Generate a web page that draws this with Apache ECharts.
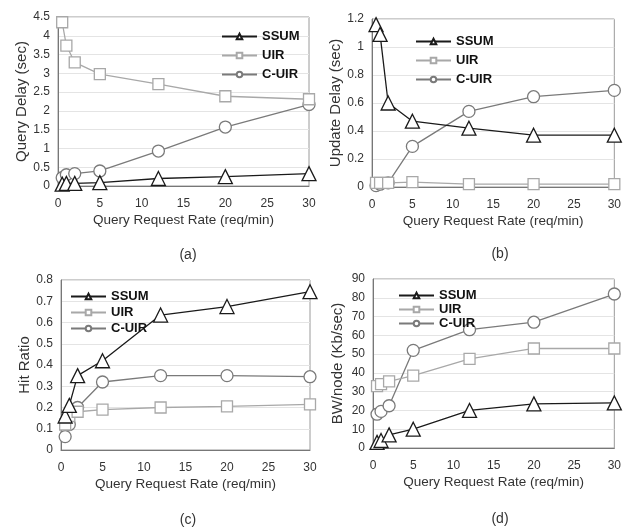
<!DOCTYPE html>
<html>
<head>
<meta charset="utf-8">
<script src="https://cdn.jsdelivr.net/npm/echarts@6/dist/echarts.min.js"></script>
<style>
  html, body { margin: 0; padding: 0; background: #fff; }
  #main { width: 624px; height: 527px; }
</style>
</head>
<body>
<div id="main"></div>
<script>
// query request rate (req/min)
var rates = [0.5, 1, 2, 5, 12, 20, 30];

// (a) query delay (sec)
var delaySSUM = [0.05, 0.07, 0.07, 0.09, 0.2, 0.25, 0.33];
var delayUIR  = [4.36, 3.74, 3.29, 2.98, 2.71, 2.39, 2.31];
var delayCUIR = [0.22, 0.3, 0.33, 0.4, 0.93, 1.57, 2.17];

// (b) update delay (sec)
var updSSUM = [1.16, 1.09, 0.6, 0.47, 0.42, 0.37, 0.37];
var updUIR  = [0.03, 0.03, 0.03, 0.035, 0.02, 0.02, 0.02];
var updCUIR = [0.01, 0.02, 0.03, 0.29, 0.54, 0.645, 0.69];

// (c) hit ratio
var hitSSUM = [0.16, 0.21, 0.35, 0.42, 0.635, 0.675, 0.745];
var hitUIR  = [0.12, 0.16, 0.18, 0.19, 0.2, 0.205, 0.215];
var hitCUIR = [0.063, 0.12, 0.2, 0.32, 0.35, 0.35, 0.345];

// (d) BW/node (Kb/sec)
var bwSSUM = [3, 4, 7, 10, 20, 23.5, 24];
var bwUIR  = [33, 34, 35.5, 38.5, 47.5, 53, 53];
var bwCUIR = [18, 19.5, 22.5, 52, 63, 67, 82];

var panelLabels = ['(a)', '(b)', '(c)', '(d)'];
var yTitles = ['Query Delay (sec)', 'Update Delay (sec)', 'Hit Ratio', 'BW/node (Kb/sec)'];
var xTitle = 'Query Request Rate (req/min)';

var FONT = 'Liberation Sans';
var seriesStyle = {
    SSUM:   { color: '#1a1a1a', symbol: 'triangle', size: 14 },
    UIR:    { color: '#a8a8a8', symbol: 'rect', size: 11 },
    'C-UIR':{ color: '#7a7a7a', symbol: 'circle', size: 12 }
};

function pairs(ys) {
    return rates.map(function (x, i) { return [x, ys[i]]; });
}

var grids = [
    { left: 58, top: 17, width: 251, height: 169 },
    { left: 372, top: 19, width: 250, height: 168 },
    { left: 61, top: 280, width: 249, height: 170 },
    { left: 373, top: 279, width: 249, height: 169 }
];
var yRanges = [
    { max: 4.5, interval: 0.5 },
    { max: 1.2, interval: 0.2 },
    { max: 0.8, interval: 0.1 },
    { max: 90, interval: 10 }
];
var yGaps = [29, 27, 29, 28];
var panelData = [
    [delaySSUM, delayUIR, delayCUIR],
    [updSSUM, updUIR, updCUIR],
    [hitSSUM, hitUIR, hitCUIR],
    [bwSSUM, bwUIR, bwCUIR]
];
var legendPos = [
    { left: 216, top: 25, gap: 6 },
    { left: 410, top: 30, gap: 6 },
    { left: 65, top: 285, gap: 3 },
    { left: 393, top: 284, gap: 1 }
];
var labelPos = [
    { left: 183, top: 243 },
    { left: 495, top: 242 },
    { left: 183, top: 508 },
    { left: 495, top: 507 }
];

var names = ['SSUM', 'UIR', 'C-UIR'];
var series = [];
panelData.forEach(function (set, g) {
    set.forEach(function (ys, k) {
        var st = seriesStyle[names[k]];
        series.push({
            name: names[k],
            type: 'line',
            xAxisIndex: g,
            yAxisIndex: g,
            data: pairs(ys),
            symbol: st.symbol,
            symbolSize: st.size,
            showAllSymbol: true,
            lineStyle: { color: st.color, width: 1.3 },
            itemStyle: { color: '#fff', borderColor: st.color, borderWidth: 1.3 },
            emphasis: { disabled: true },
            z: 3 - k
        });
    });
});

var option = {
    animation: false,
    textStyle: { fontFamily: FONT },
    title: labelPos.map(function (p, i) {
        return {
            text: panelLabels[i], left: p.left, top: p.top, textAlign: 'center',
            textStyle: { fontFamily: FONT, fontSize: 14, fontWeight: 'normal', color: '#333' }
        };
    }),
    legend: legendPos.map(function (p) {
        return {
            data: names, left: p.left, top: p.top, orient: 'vertical',
            itemWidth: 35, itemHeight: 7, itemGap: p.gap,
            textStyle: { fontFamily: FONT, fontSize: 13, fontWeight: 'bold', color: '#111' },
            selectedMode: false
        };
    }),
    grid: grids.map(function (g) {
        return Object.assign({ show: true, borderColor: '#9a9a9a', borderWidth: 1, backgroundColor: '#fff' }, g);
    }),
    xAxis: grids.map(function (g, i) {
        return {
            type: 'value', gridIndex: i, min: 0, max: 30, interval: 5,
            name: xTitle, nameLocation: 'middle', nameGap: 27,
            nameTextStyle: { fontFamily: FONT, fontSize: 13.5, color: '#333' },
            axisLine: { show: true, lineStyle: { color: '#777' } },
            axisTick: { show: false },
            axisLabel: { fontFamily: FONT, fontSize: 12, color: '#333', margin: 12 },
            splitLine: { show: false }
        };
    }),
    yAxis: grids.map(function (g, i) {
        return {
            type: 'value', gridIndex: i, min: 0, max: yRanges[i].max, interval: yRanges[i].interval,
            name: yTitles[i], nameLocation: 'middle', nameGap: yGaps[i],
            nameTextStyle: { fontFamily: FONT, fontSize: 15, color: '#333' },
            axisLine: { show: true, lineStyle: { color: '#777' } },
            axisTick: { show: false },
            axisLabel: { fontFamily: FONT, fontSize: 12, color: '#333', margin: 8 },
            splitLine: { show: true, lineStyle: { color: '#e4e4e4' } }
        };
    }),
    series: series
};

var myChart = echarts.init(document.getElementById('main'));
myChart.setOption(option);
</script>
</body>
</html>
